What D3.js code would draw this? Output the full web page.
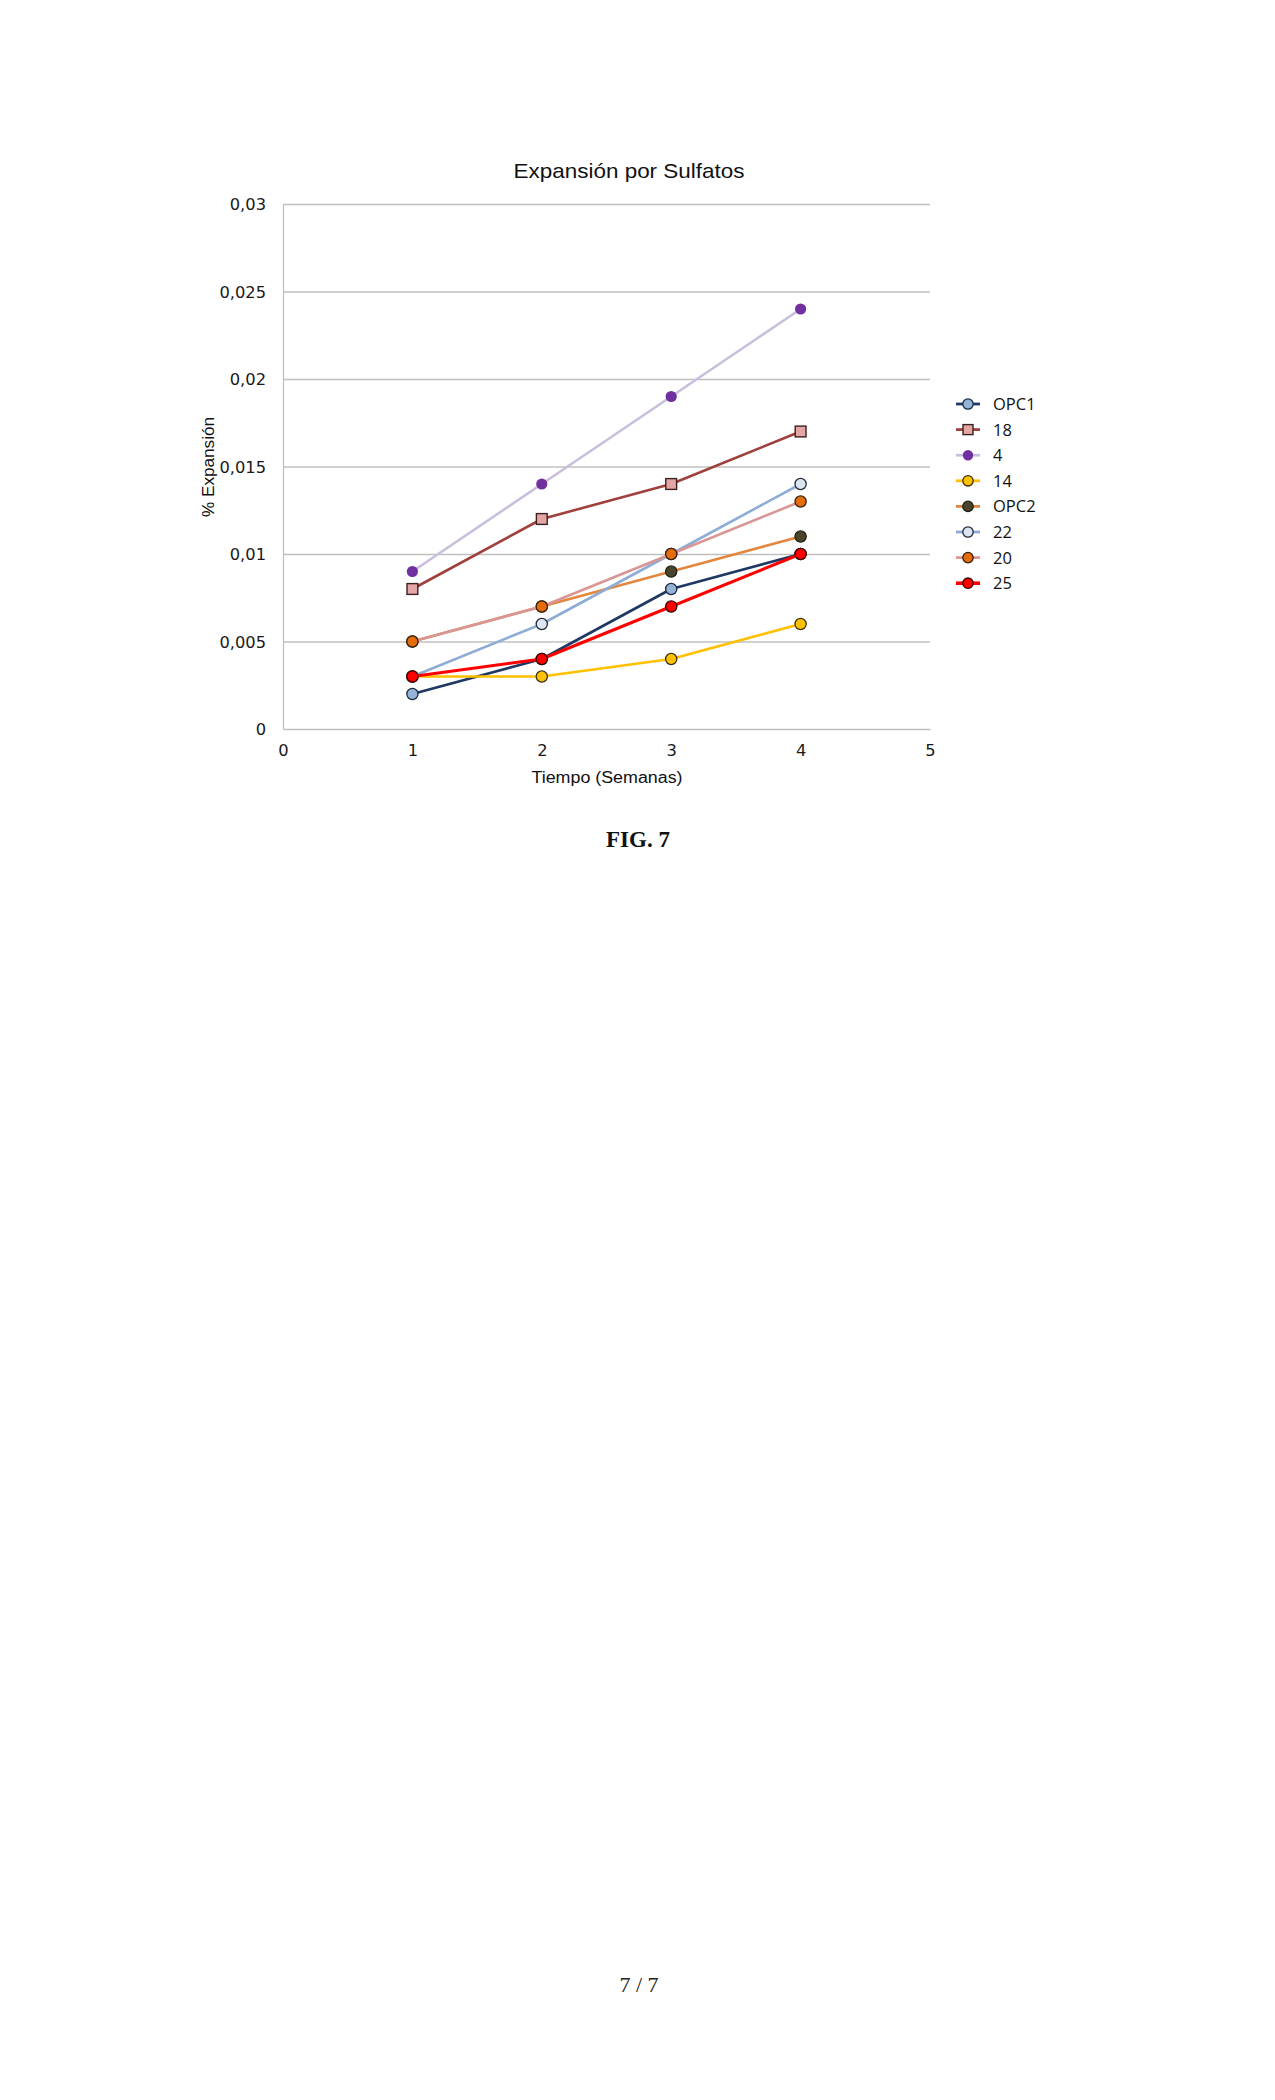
<!DOCTYPE html>
<html>
<head>
<meta charset="utf-8">
<script src="https://cdn.jsdelivr.net/npm/d3@7/dist/d3.min.js"></script>
<style>
  html, body { margin: 0; padding: 0; background: #ffffff; }
  svg { display: block; }
</style>
</head>
<body>
<script>
// ---- Data ----
const weeks = [1, 2, 3, 4];
const seriesNames = ["OPC1", "18", "4", "14", "OPC2", "22", "20", "25"];
const valuesOPC1 = [0.002, 0.004, 0.008, 0.010];
const values18   = [0.008, 0.012, 0.014, 0.017];
const values4    = [0.009, 0.014, 0.019, 0.024];
const values14   = [0.003, 0.003, 0.004, 0.006];
const valuesOPC2 = [0.005, 0.007, 0.009, 0.011];
const values22   = [0.003, 0.006, 0.010, 0.014];
const values20   = [0.005, 0.007, 0.010, 0.013];
const values25   = [0.003, 0.004, 0.007, 0.010];
const yTicks = [0, 0.005, 0.01, 0.015, 0.02, 0.025, 0.03];
const yTickLabels = ["0", "0,005", "0,01", "0,015", "0,02", "0,025", "0,03"];
const xTicks = [0, 1, 2, 3, 4, 5];
const titleText = "Expansión por Sulfatos";
const xTitle = "Tiempo (Semanas)";
const yTitle = "% Expansión";
const figLabel = "FIG. 7";
const pageLabel = "7 / 7";

// ---- Styles (separate from data) ----
const styles = {
  "OPC1": { line: "#1f3864", fill: "#95b3d7", stroke: "#1a2a40", shape: "circle", width: 2.6 },
  "18":   { line: "#a0403c", fill: "#e6a5a5", stroke: "#3a2020", shape: "square", width: 2.6 },
  "4":    { line: "#c9bfdc", fill: "#7030a0", stroke: "none",    shape: "circle", width: 2.6 },
  "14":   { line: "#ffc000", fill: "#ffc000", stroke: "#3a3010", shape: "circle", width: 2.6 },
  "OPC2": { line: "#e3873e", fill: "#4a452a", stroke: "#1f1f10", shape: "circle", width: 2.6 },
  "22":   { line: "#8eacd6", fill: "#dce6f2", stroke: "#222a36", shape: "circle", width: 2.6 },
  "20":   { line: "#d99694", fill: "#e46c0a", stroke: "#3a2010", shape: "circle", width: 2.6 },
  "25":   { line: "#ff0000", fill: "#ff0000", stroke: "#3a0000", shape: "circle", width: 3.0 }
};
const allValues = [valuesOPC1, values18, values4, values14, valuesOPC2, values22, values20, values25];
const series = seriesNames.map((n, i) => ({ name: n, values: allValues[i] }));

const W = 1275, H = 2100;
const svg = d3.select("body").append("svg").attr("width", W).attr("height", H)
  .style("background", "#fff");

const x = d3.scaleLinear().domain([0, 5]).range([283, 930]);
const y = d3.scaleLinear().domain([0, 0.03]).range([729, 204]);

const axisFont = "'Liberation Sans', Arial, sans-serif";
const tickFont = "'DejaVu Sans', Verdana, sans-serif";

// Gridlines
svg.append("g").selectAll("line").data(yTicks.filter(d => d > 0)).join("line")
  .attr("x1", x(0)).attr("x2", x(5))
  .attr("y1", d => y(d) + 0.5).attr("y2", d => y(d) + 0.5)
  .attr("stroke", "#c0c0c0").attr("stroke-width", 1.3);

// Axes
const yAxis = d3.axisLeft(y).tickValues(yTicks).tickSize(0)
  .tickFormat((d, i) => yTickLabels[i]).tickPadding(17);
const gy = svg.append("g").attr("transform", `translate(${x(0)},0)`).call(yAxis);
gy.select(".domain").attr("stroke", "#c0c0c0").attr("stroke-width", 1.3);
gy.selectAll("text").attr("font-family", tickFont).attr("font-size", 16.3)
  .attr("fill", "#1a1a1a").attr("dy", "0.36em");

const xAxis = d3.axisBottom(x).tickValues(xTicks).tickSize(0).tickPadding(15)
  .tickFormat(d3.format("d"));
const gx = svg.append("g").attr("transform", `translate(0,${y(0)})`).call(xAxis);
gx.select(".domain").attr("stroke", "#c0c0c0").attr("stroke-width", 1.6);
gx.selectAll("text").attr("font-family", tickFont).attr("font-size", 16.3)
  .attr("fill", "#1a1a1a");

// Titles
svg.append("text").attr("x", 629).attr("y", 178).attr("text-anchor", "middle")
  .attr("font-family", axisFont).attr("font-size", 21).attr("fill", "#111")
  .attr("textLength", 231).attr("lengthAdjust", "spacingAndGlyphs")
  .text(titleText);
svg.append("text").attr("x", 607).attr("y", 783).attr("text-anchor", "middle")
  .attr("font-family", axisFont).attr("font-size", 16).attr("fill", "#111")
  .attr("textLength", 151).attr("lengthAdjust", "spacingAndGlyphs")
  .text(xTitle);
svg.append("text").attr("transform", "translate(214,467) rotate(-90)")
  .attr("text-anchor", "middle")
  .attr("font-family", axisFont).attr("font-size", 16.5).attr("fill", "#111")
  .attr("textLength", 100).attr("lengthAdjust", "spacingAndGlyphs")
  .text(yTitle);

// Lines and markers
const line = d3.line().x((d, i) => x(weeks[i])).y(d => y(d));
function drawMarker(g, shape, st, cx, cy, r) {
  if (shape === "square") {
    g.append("rect").attr("x", cx - r).attr("y", cy - r).attr("width", 2 * r).attr("height", 2 * r)
      .attr("fill", st.fill).attr("stroke", st.stroke).attr("stroke-width", 1.4);
  } else {
    g.append("circle").attr("cx", cx).attr("cy", cy).attr("r", r)
      .attr("fill", st.fill).attr("stroke", st.stroke).attr("stroke-width", 1.3);
  }
}
series.forEach(s => {
  const st = styles[s.name];
  const g = svg.append("g");
  g.append("path").datum(s.values).attr("d", line).attr("fill", "none")
    .attr("stroke", st.line).attr("stroke-width", st.width).attr("stroke-linejoin", "round");
  s.values.forEach((v, i) => drawMarker(g, st.shape, st, x(weeks[i]), y(v), st.shape === "square" ? 5.4 : 5.6));
});

// Legend
const legendY0 = 404, legendStep = 25.6;
const lg = svg.append("g");
series.forEach((s, i) => {
  const st = styles[s.name];
  const ly = legendY0 + i * legendStep;
  lg.append("line").attr("x1", 956).attr("x2", 980).attr("y1", ly).attr("y2", ly)
    .attr("stroke", st.line).attr("stroke-width", st.width + (s.name === "25" ? 0.6 : 0.2));
  drawMarker(lg, st.shape, st, 968, ly, st.shape === "square" ? 5 : 5.2);
  lg.append("text").attr("x", 993).attr("y", ly).attr("dy", "0.36em")
    .attr("font-family", "'Open Sans', 'Liberation Sans', sans-serif").attr("font-size", 16.5)
    .attr("fill", "#111").text(s.name);
});

// Figure label and page number
svg.append("text").attr("x", 638).attr("y", 847).attr("text-anchor", "middle")
  .attr("font-family", "'Liberation Serif', 'Times New Roman', serif").attr("font-weight", "bold")
  .attr("font-size", 23).attr("fill", "#111").text(figLabel);
svg.append("text").attr("x", 639).attr("y", 1992).attr("text-anchor", "middle")
  .attr("font-family", "'Liberation Serif', 'Times New Roman', serif")
  .attr("font-size", 22).attr("fill", "#222").text(pageLabel);
</script>
</body>
</html>
